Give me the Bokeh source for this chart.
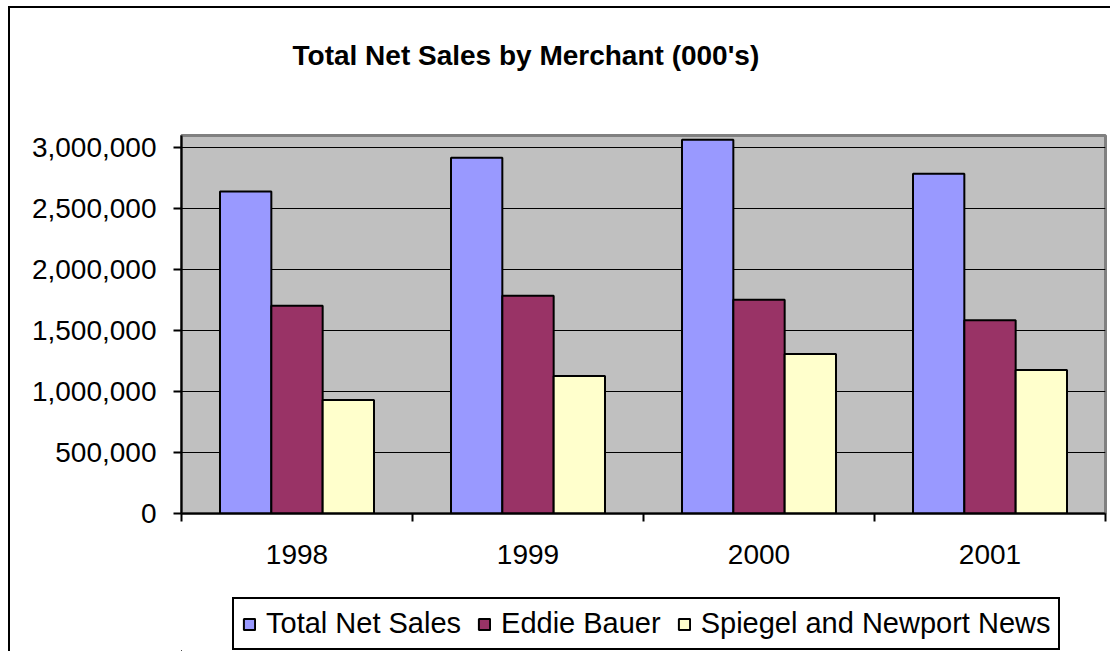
from bokeh.plotting import figure
from bokeh.layouts import column
from bokeh.models import (ColumnDataSource, Range1d, FixedTicker, NumeralTickFormatter,
                          Legend, LegendItem, Label, BoxAnnotation)
from bokeh.transform import dodge
from bokeh.embed import file_html
from bokeh.resources import INLINE

years = ["1998", "1999", "2000", "2001"]
total_net_sales = [2640000, 2918000, 3066000, 2787000]
eddie_bauer = [1703000, 1785000, 1752000, 1585000]
spiegel_newport = [931000, 1128000, 1309000, 1177000]
series_names = ["Total Net Sales", "Eddie Bauer", "Spiegel and Newport News"]
series_colors = ["#9999FF", "#993366", "#FFFFCC"]
y_ticks = [0, 500000, 1000000, 1500000, 2000000, 2500000, 3000000]
title_text = "Total Net Sales by Merchant (000's)"

FONT = "Liberation Sans"
W = 1102
pos = [i + 0.5 for i in range(len(years))]
source = ColumnDataSource(dict(pos=pos, tns=total_net_sales, eb=eddie_bauer, sp=spiegel_newport))
fields = ["tns", "eb", "sp"]
bw = 0.2222
offsets = [-bw, 0, bw]

# ---- title strip ----
tt = figure(width=W, height=80, output_backend="svg", toolbar_location=None,
            x_axis_type=None, y_axis_type=None, min_border=0,
            x_range=Range1d(0, 1), y_range=Range1d(0, 1))
tt.styles = {"border-left": "2px solid black", "border-top": "2px solid black",
             "margin-left": "8px", "margin-top": "6px"}
tt.outline_line_color = None
tt.grid.visible = False
tt.background_fill_color = "white"
tt.border_fill_color = "white"
tt.add_layout(Label(x=111, y=33, x_units="screen", y_units="screen", text=title_text,
                    text_font=FONT, text_font_size="28px", text_font_style="bold",
                    text_color="black", text_baseline="alphabetic", text_align="left"))

# ---- main chart ----
p = figure(width=W, height=499, output_backend="svg", toolbar_location=None,
           x_range=Range1d(0, len(years)), y_range=Range1d(0, 3100000),
           min_border_left=171, min_border_right=7, min_border_top=49, min_border_bottom=72)
p.styles = {"border-left": "2px solid black", "margin-left": "8px"}
p.background_fill_color = "#C0C0C0"
p.border_fill_color = "white"
p.outline_line_color = "#808080"
p.outline_line_width = 3

for f, off, c in zip(fields, offsets, series_colors):
    p.vbar(x=dodge("pos", off), top=f, width=bw, bottom=0, source=source,
           fill_color=c, line_color="black", line_width=2)

p.xgrid.visible = False
p.ygrid.ticker = FixedTicker(ticks=y_ticks)
p.ygrid.grid_line_color = "black"
p.ygrid.grid_line_width = 1
p.ygrid.level = "underlay"

ya = p.yaxis[0]
ya.ticker = FixedTicker(ticks=y_ticks)
ya.formatter = NumeralTickFormatter(format="0,0")
ya.axis_line_color = "black"
ya.axis_line_width = 2
ya.major_tick_in = 0
ya.major_tick_out = 8
ya.major_tick_line_width = 2
ya.minor_tick_line_color = None
ya.major_label_text_font = FONT
ya.major_label_text_font_size = "28px"
ya.major_label_text_color = "black"
ya.major_label_standoff = 17

xa = p.xaxis[0]
xa.ticker = FixedTicker(ticks=pos, minor_ticks=list(range(len(years) + 1)))
xa.major_label_overrides = {pp: y for pp, y in zip(pos, years)}
xa.axis_line_color = "black"
xa.axis_line_width = 2
xa.major_tick_in = 0
xa.major_tick_out = 0
xa.minor_tick_in = 0
xa.minor_tick_out = 8
xa.minor_tick_line_color = "black"
xa.minor_tick_line_width = 2
xa.major_label_text_font = FONT
xa.major_label_text_font_size = "28px"
xa.major_label_text_color = "black"
xa.major_label_standoff = 23

# ---- legend strip (its bars lie outside its view and are masked; only the legend shows) ----
lg = figure(width=W, height=66, output_backend="svg", toolbar_location=None,
            x_axis_type=None, y_axis_type=None, min_border=0,
            x_range=Range1d(100, 100 + len(years)), y_range=Range1d(1e8, 2e8))
lg.styles = {"border-left": "2px solid black", "margin-left": "8px"}
lg.outline_line_color = None
lg.grid.visible = False
lg.background_fill_color = "white"
lg.border_fill_color = "white"
lg_renderers = []
for f, off, c in zip(fields, offsets, series_colors):
    r = lg.vbar(x=dodge("pos", off), top=f, width=bw, bottom=0, source=source,
                fill_color=c, line_color="black", line_width=2)
    lg_renderers.append(r)
lg.add_layout(BoxAnnotation(fill_color="white", fill_alpha=1.0, line_color=None, level="guide"))
items = [LegendItem(label=n, renderers=[r]) for n, r in zip(series_names, lg_renderers)]
legend = Legend(items=items, orientation="horizontal", location=(51, 1),
                label_text_font=FONT, label_text_font_size="29px", label_text_color="black",
                glyph_width=14, glyph_height=14, label_standoff=10, spacing=16,
                padding=8, margin=0, border_line_color="black", border_line_width=2,
                border_line_alpha=1.0,
                background_fill_color="white", background_fill_alpha=1)
lg.add_layout(legend, "center")

layout = column(tt, p, lg, spacing=0)
open("out.html", "w").write(file_html(layout, INLINE))
